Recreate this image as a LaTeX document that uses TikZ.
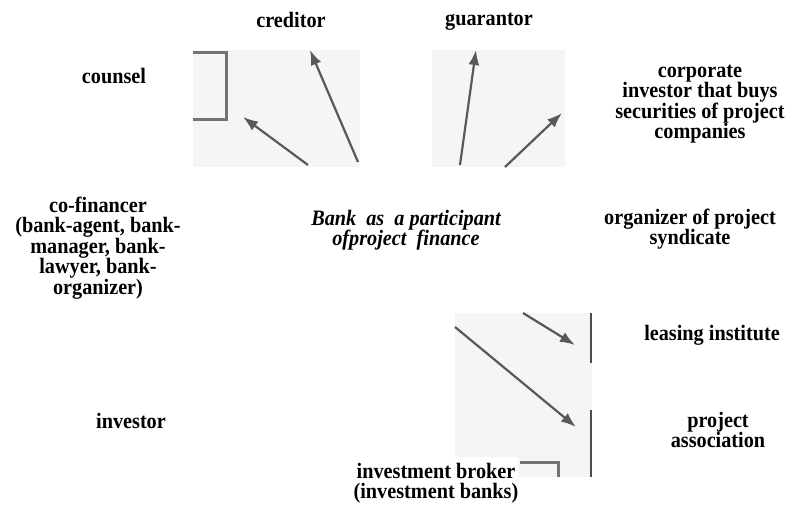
\documentclass[tikz,border=0pt]{standalone}
\usepackage{fontspec}
\setmainfont{Liberation Serif}[FakeStretch=0.92]
\usetikzlibrary{arrows.meta}

\begin{document}
\begin{tikzpicture}[x=1pt, y=-1pt,
    every node/.style={font=\bfseries\fontsize{22}{20.5}\selectfont, align=center, inner sep=0pt},
    scan/.style={fill=black!4, draw=none},
    frame line/.style={draw=black!55, line width=3pt},
    bar line/.style={draw=black!70, line width=2pt},
    pointer/.style={draw=black!65, line width=2.2pt, -{Latex[length=15pt,width=11pt]}}]
    \useasboundingbox (0,0) rectangle (807,513);

    % scanned patches
    \fill[scan] (193,50) rectangle (360,167);
    \fill[scan] (432,50) rectangle (565,167);
    \fill[scan] (455,313) -- (592,313) -- (592,477) -- (518,477) -- (518,457) -- (455,457) -- cycle;

    \draw[frame line] (193,53) -- (226,53) -- (226,120) -- (193,120);
    \draw[bar line] (591,313) -- (591,363);
    \draw[bar line] (591,410) -- (591,477);
    \draw[frame line] (520,462) -- (558,462) -- (558,477);

    % participants
    \node(creditor) at (291,20) {creditor};
    \node(guarantor) at (489,22) {guarantor};
    \node(counsel) at (114,76) {counsel};
    \node(corporate) at (700,104) {corporate\\investor that buys\\securities of project\\companies};
    \node(cofin) at (98,248) {co-financer\\(bank-agent, bank-\\manager, bank-\\lawyer, bank-\\organizer)};
    \node(bank) at (406,230) {\itshape Bank\ \ as\ \ a participant\\\itshape ofproject\ \ finance};
    \node(organizer) at (690,229) {organizer of project\\syndicate};
    \node(leasing) at (712,335) {leasing institute};
    \node(investor) at (131,421) {investor};
    \node(assoc) at (718,430) {project\\association};
    \node(broker) at (436,483) {investment broker\\(investment banks)};

    % arrow ends
    \coordinate(t1) at (308,165); \coordinate(h1) at (243,117);
    \coordinate(t2) at (358,162); \coordinate(h2) at (310,50);
    \coordinate(t3) at (460,165); \coordinate(h3) at (476,50);
    \coordinate(t4) at (505,167); \coordinate(h4) at (562,113);
    \coordinate(t5) at (523,313); \coordinate(h5) at (575,345);
    \coordinate(t6) at (455,327); \coordinate(h6) at (576,427);

    \draw[pointer] (t1)--(h1);
    \draw[pointer] (t2)--(h2);
    \draw[pointer] (t3)--(h3);
    \draw[pointer] (t4)--(h4);
    \draw[pointer] (t5)--(h5);
    \draw[pointer] (t6)--(h6);
\end{tikzpicture}
\end{document}
